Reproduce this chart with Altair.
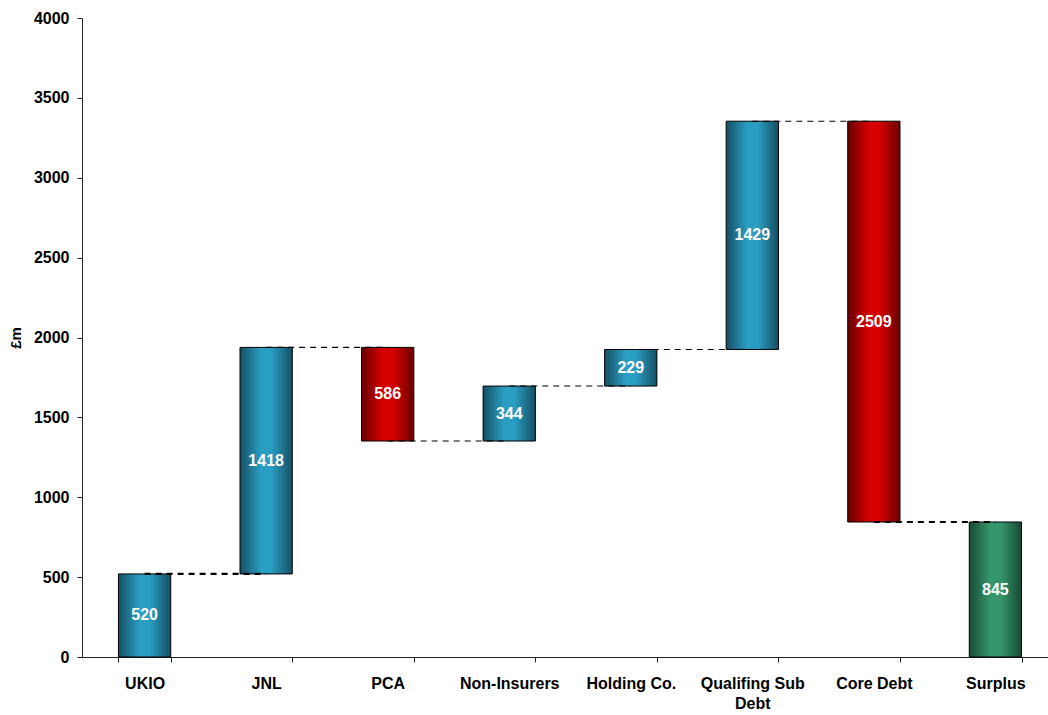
import altair as alt
import pandas as pd

# Capital bridge, £m
categories = ["UKIO", "JNL", "PCA", "Non-Insurers", "Holding Co.",
              "Qualifing Sub Debt", "Core Debt", "Surplus"]
changes = [520, 1418, -586, 344, 229, 1429, -2509, 845]
kinds = ["up", "up", "down", "up", "up", "up", "down", "total"]

FONT = "Liberation Sans"

# running totals for the floating bars
rows = []
level = 0
for cat, chg, kind in zip(categories, changes, kinds):
    if kind == "total":
        start, end = 0, chg
    else:
        start, end = level, level + chg
    level = end
    rows.append({"cat": cat, "start": start, "end": end,
                 "mid": (start + end) / 2, "label": abs(chg), "kind": kind})
bars = pd.DataFrame(rows)

# dashed connectors from each bar's end level to the next bar
links = pd.DataFrame([
    {"a": categories[i], "b": categories[i + 1], "y": rows[i]["end"],
     "w": 2.2 if i in (0, len(categories) - 2) else 1.1}
    for i in range(len(categories) - 1)
])

def shade(dark, light):
    return alt.Gradient(
        gradient="linear", x1=0, x2=1, y1=0, y2=0,
        stops=[alt.GradientStop(offset=0, color=dark),
               alt.GradientStop(offset=0.4, color=light),
               alt.GradientStop(offset=0.6, color=light),
               alt.GradientStop(offset=1, color=dark)])

# the band range runs slightly past the right edge of the page
x_scale = alt.Scale(domain=categories, range=[0, 976],
                    paddingInner=0.57, paddingOuter=0.3)

x_enc = alt.X("cat:N", scale=x_scale,
              axis=alt.Axis(title=None, labelAngle=0, tickBand="extent",
                            labelFont=FONT, labelFontSize=16, labelFontWeight="bold",
                            labelColor="black", labelPadding=13, tickSize=5,
                            labelLineHeight=20,
                            domainColor="#222222", tickColor="#222222",
                            labelExpr="datum.value == 'Qualifing Sub Debt' ? ['Qualifing Sub', 'Debt'] : datum.label"))
y_enc = alt.Y("start:Q",
              scale=alt.Scale(domain=[0, 4000], nice=False),
              axis=alt.Axis(title="£m", values=list(range(0, 4001, 500)), grid=False,
                            format="d",
                            labelFont=FONT, labelFontSize=16, labelFontWeight="bold",
                            labelColor="black", labelPadding=8,
                            titleFont=FONT, titleFontSize=15,
                            titleFontWeight="bold", titleColor="black", titlePadding=10,
                            tickSize=5, domainColor="#222222", tickColor="#222222"))

base = alt.Chart(bars)

def bar_layer(kind, dark, light):
    return base.transform_filter(alt.datum.kind == kind).mark_bar(
        fill=shade(dark, light), stroke="black", strokeWidth=1
    ).encode(x=x_enc, y=y_enc, y2="end:Q")

blue = bar_layer("up", "#164f63", "#2a9dc2")
red = bar_layer("down", "#6a0000", "#d60000")
green = bar_layer("total", "#174a33", "#36966b")

connectors = alt.Chart(links).mark_rule(color="black", strokeDash=[6, 5]).encode(
    x=alt.X("a:N", scale=x_scale),
    x2="b:N",
    y="y:Q",
    strokeWidth=alt.StrokeWidth("w:Q", scale=None, legend=None),
)

labels = base.mark_text(color="white", font=FONT, fontSize=16, fontWeight="bold").encode(
    x=alt.X("cat:N", scale=x_scale),
    y="mid:Q",
    text="label:Q",
)

chart = alt.layer(blue, red, green, connectors, labels).properties(
    width=966, height=639,
    padding={"left": 82, "top": 18, "right": 0, "bottom": 58},
    autosize=alt.AutoSizeParams(type="none"),
).configure(background="white").configure_view(stroke=None)

chart.save("out.html", embed_options={"renderer": "svg", "actions": False})
